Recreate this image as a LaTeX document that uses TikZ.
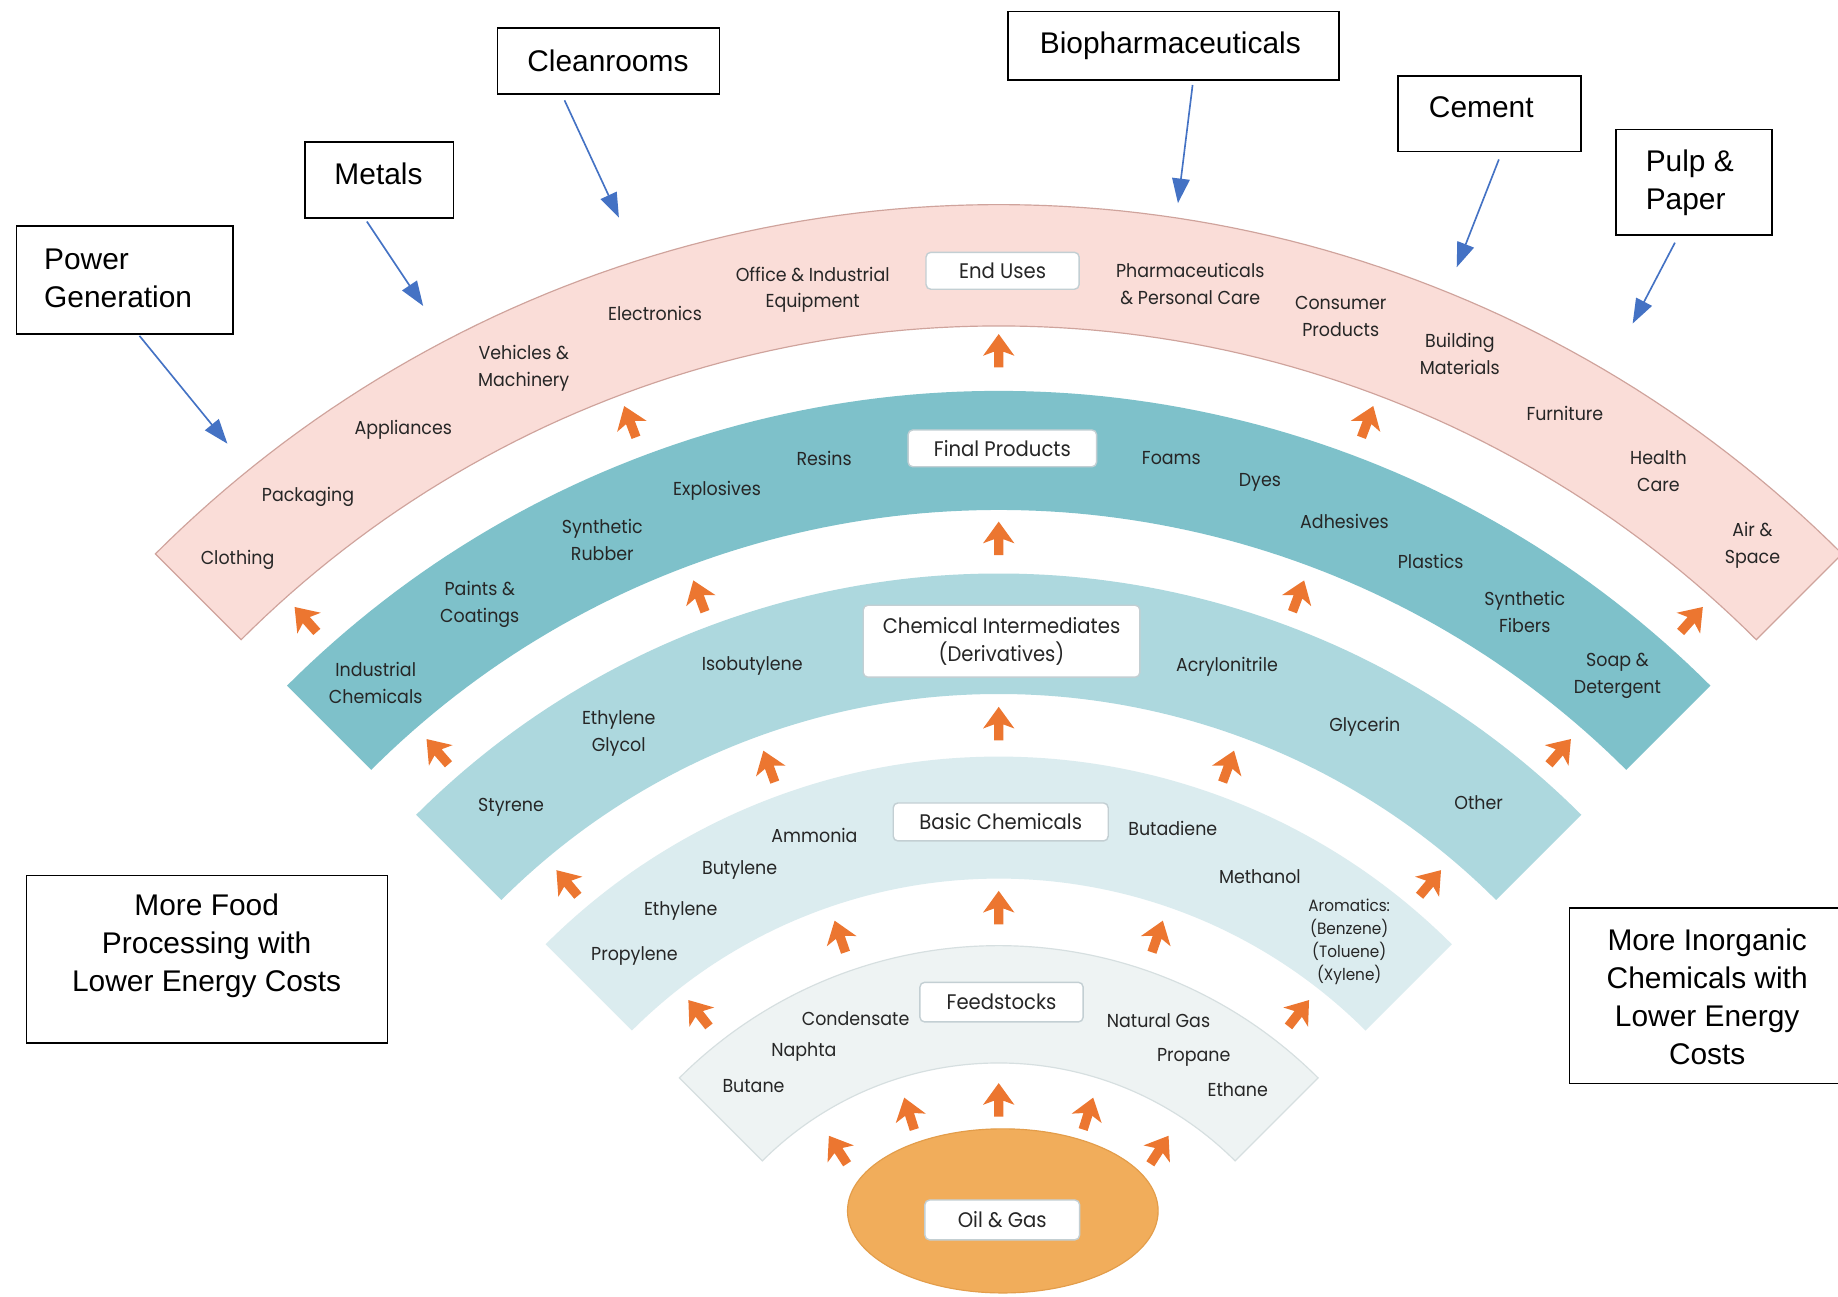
\documentclass[tikz,border=0pt]{standalone}
\usepackage{fontspec}
\setmainfont{Liberation Sans}
\newfontfamily\arcfont{Poppins}[FakeStretch=0.93]
\usetikzlibrary{arrows.meta,calc}
\definecolor{pinkfill}{HTML}{FADDD8}
\definecolor{pinkline}{HTML}{CFA39C}
\definecolor{finalfill}{HTML}{7EC1CA}
\definecolor{chemfill}{HTML}{ADD8DE}
\definecolor{basicfill}{HTML}{DBECEF}
\definecolor{feedfill}{HTML}{EEF3F3}
\definecolor{feedline}{HTML}{D6DFE0}
\definecolor{oilfill}{HTML}{F1AD5B}
\definecolor{oilline}{HTML}{E39D4A}
\definecolor{arrowor}{HTML}{EC7630}
\definecolor{arrowblue}{HTML}{4472C4}
\definecolor{labgray}{HTML}{262626}
\definecolor{boxline}{HTML}{C3CFD3}
\newcommand{\bandshape}[3]{%
  \path[#1] plot[domain=45:135,samples=100] ({852+#2*cos(\x)},{1192-#2*sin(\x)})
    -- plot[domain=135:45,samples=100] ({852+#3*cos(\x)},{1192-#3*sin(\x)}) -- cycle;}
\newcommand{\orarrow}[2]{%
  \fill[arrowor, shift={({852+#2*cos(#1)},{1192-#2*sin(#1)})}, rotate=#1]
    (14pt,0pt) -- (-4.5pt,13.4pt) -- (-1pt,4pt) -- (-14.5pt,4pt) -- (-14.5pt,-4pt)
    -- (-1pt,-4pt) -- (-4.5pt,-13.4pt) -- cycle;}
\tikzset{
  annotbox/.style={draw=black, line width=1.4pt, fill=white, inner sep=0pt},
  annottext/.style={font=\fontsize{25.5}{32.5}\selectfont, align=center, inner sep=0pt, text=black},
  arclab/.style={font=\arcfont\fontsize{16}{23}\selectfont, align=center, inner sep=0pt, text=labgray},
  smalllab/.style={font=\arcfont\fontsize{14}{19.5}\selectfont, align=center, inner sep=0pt, text=labgray},
  bandbox/.style={draw=boxline, line width=1.2pt, fill=white, rounded corners=4pt, inner sep=0pt,
    font=\arcfont\fontsize{18}{24}\selectfont, text=labgray, align=center},
  bluearrow/.style={draw=arrowblue, line width=1.4pt, -{Triangle[length=21pt,width=15pt]}},
}
\begin{document}
\begin{tikzpicture}[x=1pt,y=-1pt]
\fill[white] (0,0) rectangle (1568,1106);
\useasboundingbox (0,0) rectangle (1568,1106);

% bands
\bandshape{fill=pinkfill, draw=pinkline, line width=1pt}{1017.5}{914}
\bandshape{fill=finalfill}{858.6}{757}
\bandshape{fill=chemfill}{702.8}{600}
\bandshape{fill=basicfill}{546.6}{442.5}
\bandshape{fill=feedfill, draw=feedline, line width=1pt}{385.3}{285.2}

% oil & gas
\path[fill=oilfill, draw=oilline, line width=1pt] (855.5,1033) ellipse [x radius=132.5, y radius=70];

% orange arrows
\foreach \ang/\rad in {123/252, 107.5/254, 90/254, 72.5/254, 57/252,
  128/416, 109/416, 90/418, 71/416, 52/416,
  130/573, 110/573, 90/575, 70/573, 50/573,
  131/730, 110.5/730, 90/733, 69.5/730, 49/730,
  131.7/889, 110.7/890, 90/893, 69.3/890, 48.3/889}{\orarrow{\ang}{\rad}}

% band title boxes
\node[bandbox, minimum width=130.6pt, minimum height=31.5pt] (endbox) at (855.3,231) {End Uses};
\node[bandbox, minimum width=160.8pt, minimum height=31.4pt] (finalbox) at (855.1,382.5) {Final Products};
\node[bandbox, minimum width=236pt, minimum height=61.4pt] (chembox) at (854.4,547) {Chemical Intermediates\\(Derivatives)};
\node[bandbox, minimum width=183.4pt, minimum height=32.4pt] (basicbox) at (853.7,701.2) {Basic Chemicals};
\node[bandbox, minimum width=139.2pt, minimum height=33.8pt] (feedbox) at (854.4,854.9) {Feedstocks};
\node[bandbox, minimum width=132pt, minimum height=34pt] (oilbox) at (855,1040.7) {Oil \& Gas};

% End uses labels
\node[arclab] (clothing) at (202.7,477.5) {Clothing};
\node[arclab] (packaging) at (262.8,423.7) {Packaging};
\node[arclab] (appliances) at (344,366.3) {Appliances};
\node[arclab] (vehicles) at (446.8,314.5) {Vehicles \&\\Machinery};
\node[arclab] (electronics) at (558.8,267.1) {Electronics};
\node[arclab] (office) at (693.3,247.2) {Office \& Industrial\\Equipment};
\node[arclab] (pharma) at (1015.4,242.2) {Pharmaceuticals\\\& Personal Care};
\node[arclab] (consumer) at (1143.8,269.6) {Consumer\\Products};
\node[arclab] (building) at (1245.4,302.3) {Building\\Materials};
\node[arclab] (furniture) at (1335,352.5) {Furniture};
\node[arclab] (health) at (1414.8,402.2) {Health\\Care};
\node[arclab] (airspace) at (1495,465.1) {Air \&\\Space};

% Final products labels
\node[arclab] (industrial) at (320.5,582.3) {Industrial\\Chemicals};
\node[arclab] (paints) at (409.3,515.8) {Paints \&\\Coatings};
\node[arclab] (rubber) at (513.8,460.8) {Synthetic\\Rubber};
\node[arclab] (explosives) at (611.7,418.5) {Explosives};
\node[arclab] (resins) at (703,390.8) {Resins};
\node[arclab] (foams) at (999.3,390.5) {Foams};
\node[arclab] (dyes) at (1074.8,411.2) {Dyes};
\node[arclab] (adhesives) at (1147,444.5) {Adhesives};
\node[arclab] (plastics) at (1220.5,478.6) {Plastics};
\node[arclab] (fibers) at (1300.8,522.4) {Synthetic\\Fibers};
\node[arclab] (soap) at (1379.8,576.5) {Soap \&\\Detergent};

% Chemical intermediates labels
\node[arclab] (styrene) at (436,688.6) {Styrene};
\node[arclab] (glycol) at (527.8,625.4) {Ethylene\\Glycol};
\node[arclab] (isobutylene) at (641.7,568) {Isobutylene};
\node[arclab] (acrylonitrile) at (1046.7,568.7) {Acrylonitrile};
\node[arclab] (glycerin) at (1164.3,619.6) {Glycerin};
\node[arclab] (other) at (1261.4,685) {Other};

% Basic chemicals labels
\node[arclab] (propylene) at (541.2,815.3) {Propylene};
\node[arclab] (ethylene) at (580.7,777.2) {Ethylene};
\node[arclab] (butylene) at (631,742.4) {Butylene};
\node[arclab] (ammonia) at (694.8,712.4) {Ammonia};
\node[arclab] (butadiene) at (1000.5,707) {Butadiene};
\node[arclab] (methanol) at (1074.8,748) {Methanol};
\node[smalllab] (aromatics) at (1151,803.4) {Aromatics:\\(Benzene)\\(Toluene)\\(Xylene)};

% Feedstocks labels
\node[arclab] (butane) at (642.8,926.6) {Butane};
\node[arclab] (naphta) at (685.8,897.1) {Naphta};
\node[arclab] (condensate) at (729.9,868.8) {Condensate};
\node[arclab] (naturalgas) at (988.3,870.6) {Natural Gas};
\node[arclab] (propane) at (1018.4,902.4) {Propane};
\node[arclab] (ethane) at (1055.9,929.9) {Ethane};

% annotation boxes
\node[annotbox, minimum width=189.2pt, minimum height=56pt] (clean) at (519.1,52) {};
\node[annottext] (cleant) at (518.6,52) {Cleanrooms};
\node[annotbox, minimum width=126.7pt, minimum height=64.4pt] (metals) at (323.6,153.5) {};
\node[annottext] (metalst) at (322.9,148) {Metals};
\node[annotbox, minimum width=184.7pt, minimum height=91.9pt] (power) at (106.4,238.8) {};
\node[annottext, align=left, anchor=west] (powert) at (37.5,237.5) {Power\\Generation};
\node[annotbox, minimum width=282.3pt, minimum height=58.4pt] (bio) at (1000.9,39.1) {};
\node[annottext] (biot) at (998.4,38.9) {Biopharmaceuticals};
\node[annotbox, minimum width=156.2pt, minimum height=64.4pt] (cement) at (1270.7,96.9) {};
\node[annottext] (cementt) at (1263.7,91.5) {Cement};
\node[annotbox, minimum width=132.7pt, minimum height=90.1pt] (pulp) at (1445.2,155.5) {};
\node[annottext, align=left, anchor=west] (pulpt) at (1403.8,155.9) {Pulp \&\\Paper};
\node[annotbox, minimum width=307.9pt, minimum height=143pt] (food) at (176.5,818.5) {};
\node[annottext] (foodt) at (176.3,807) {More Food\\Processing with\\Lower Energy Costs};
\node[annotbox, minimum width=235.2pt, minimum height=149.8pt] (inorg) at (1456.4,849.4) {};
\node[annottext] (inorgt) at (1456.4,850.2) {More Inorganic\\Chemicals with\\Lower Energy\\Costs};

% blue arrows
\coordinate (powerS) at (119,286.5);   \coordinate (powerE) at (194,378.5);
\coordinate (metalsS) at (313,189);    \coordinate (metalsE) at (361,261);
\coordinate (cleanS) at (481.6,85.6);  \coordinate (cleanE) at (528,185.7);
\coordinate (bioS) at (1017.4,72.5);   \coordinate (bioE) at (1004.9,173.3);
\coordinate (cementS) at (1278.7,136); \coordinate (cementE) at (1242.7,228);
\coordinate (pulpS) at (1428.9,207);   \coordinate (pulpE) at (1392.8,276);
\draw[bluearrow] (powerS) -- (powerE);
\draw[bluearrow] (metalsS) -- (metalsE);
\draw[bluearrow] (cleanS) -- (cleanE);
\draw[bluearrow] (bioS) -- (bioE);
\draw[bluearrow] (cementS) -- (cementE);
\draw[bluearrow] (pulpS) -- (pulpE);
\end{tikzpicture}
\end{document}
